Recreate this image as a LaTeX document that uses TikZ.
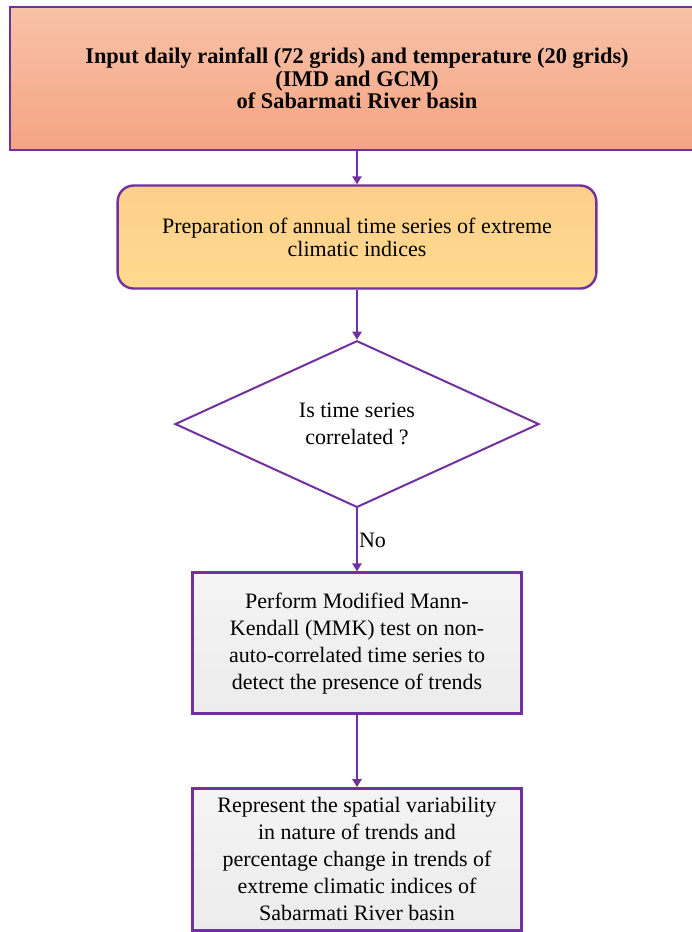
\documentclass[tikz,border=0pt]{standalone}
\usepackage{fontspec}
\setmainfont{Liberation Serif}
\usetikzlibrary{arrows.meta, positioning, shapes.geometric}
\definecolor{flowpurple}{HTML}{7030A0}
\definecolor{inputtop}{HTML}{F8C2A8}
\definecolor{inputbot}{HTML}{F4A482}
\definecolor{preptop}{HTML}{FCD08A}
\definecolor{prepbot}{HTML}{FFD98E}
\definecolor{greytop}{HTML}{F4F4F4}
\definecolor{greybot}{HTML}{ECECEC}

\begin{document}
\begin{tikzpicture}[x=0.75pt, y=-0.75pt, font=\fontsize{16.5}{20.25}\selectfont,
  box/.style={draw=flowpurple, line width=2pt, align=center, inner sep=2pt},
  link/.style={draw=flowpurple, line width=1.1pt, -{Triangle[length=6pt, width=7pt]}}]
\useasboundingbox (0,0) rectangle (692,932);
\node[box, top color=inputtop, bottom color=inputbot, minimum width=520.5pt, minimum height=107.25pt,
  font=\bfseries\fontsize{16.8}{17}\selectfont] (input) at (357,78.5)
  {Input daily rainfall (72 grids) and temperature (20 grids)\\(IMD and GCM)\\of Sabarmati River basin};
\node[box, rounded corners=12pt, line width=1.8pt, top color=preptop, bottom color=prepbot,
  minimum width=359pt, minimum height=77.25pt, font=\fontsize{16.5}{17.25}\selectfont,
  below=24.75pt of input] (prep)
  {Preparation of annual time series of extreme\\climatic indices};
\node[box, diamond, line width=1.5pt, fill=white, inner sep=0pt, minimum width=273pt, minimum height=125pt,
  below=37.5pt of prep] (corr)
  {Is time series\\correlated ?};
\node[box, top color=greytop, bottom color=greybot, minimum width=246.75pt, minimum height=105.75pt,
  below=47.25pt of corr] (mmk)
  {Perform Modified Mann-\\Kendall (MMK) test on non-\\auto-correlated time series to\\detect the presence of trends};
\node[box, top color=greytop, bottom color=greybot, minimum width=246.75pt, minimum height=106.5pt,
  below=54pt of mmk] (trend)
  {Represent the spatial variability\\in nature of trends and\\percentage change in trends of\\extreme climatic indices of\\Sabarmati River basin};
\draw[link] (input) -- (prep);
\draw[link] (prep) -- (corr);
\draw[link] (corr) -- node[right, inner sep=1pt] {No} (mmk);
\draw[link] (mmk) -- (trend);
\end{tikzpicture}
\end{document}
